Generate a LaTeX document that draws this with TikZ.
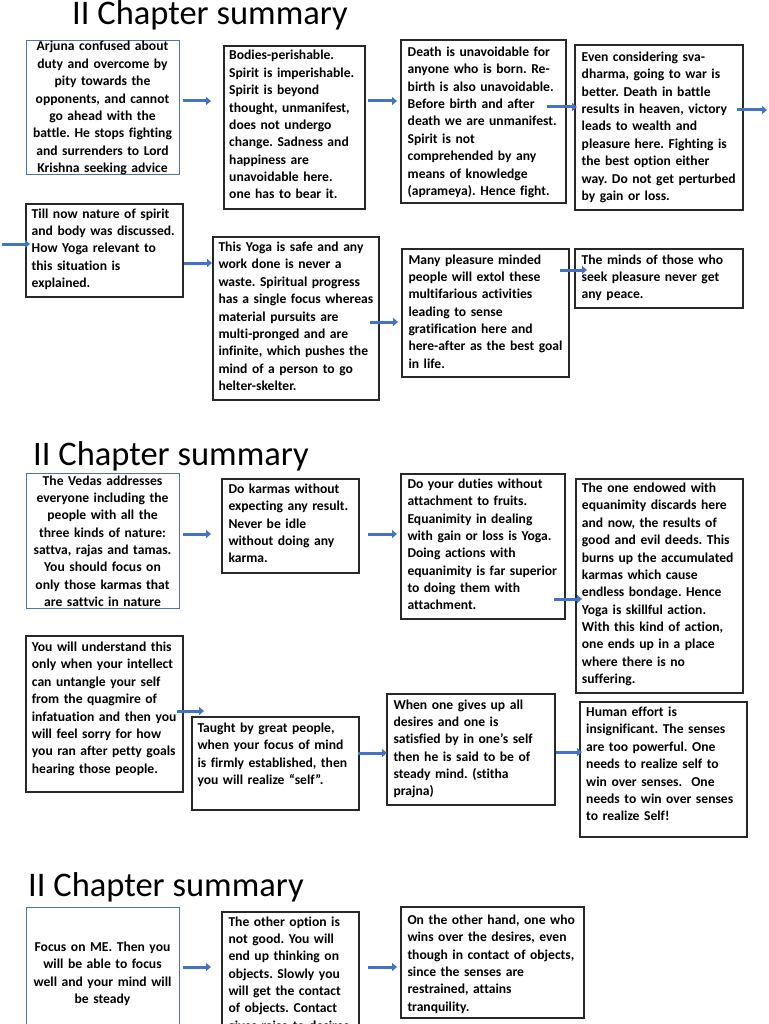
\documentclass[tikz,border=0pt]{standalone}
\usepackage{fontspec}
\setmainfont{Carlito}[Ligatures={NoCommon}]
\usetikzlibrary{arrows.meta,fit}
\definecolor{arrblue}{RGB}{68,114,196}
\definecolor{bordblue}{RGB}{79,114,180}
\definecolor{bordgray}{RGB}{40,40,40}
\tikzset{
  bluebox/.style={draw=bordblue,line width=1pt,inner sep=0pt},
  graybox/.style={draw=bordgray,line width=1.1pt,inner sep=0pt},
  txtl/.style={inner sep=0pt,text width=240pt,align=left,anchor=base west,
    font=\fontsize{13.6}{17.35}\selectfont\bfseries},
  txtc/.style={inner sep=0pt,text width=240pt,align=center,anchor=base,
    font=\fontsize{13.6}{17.35}\selectfont\bfseries},
  ttl/.style={inner sep=0pt,anchor=base west,font=\fontsize{34.5}{40}\selectfont},
  arr/.style={draw=arrblue,line width=3pt,-{Triangle[length=5pt,width=8pt]}}
}
% name, boxstyle, x1, y1, x2, y2, textstyle, tx, ty  -- text given after
\newcommand{\mkbox}[9]{%
  \node[#2,fit={(#3,#4)(#5,#6)}] (#1) {};
  \node[#7] (#1-t) at (#8,#9)}
\begin{document}
\frenchspacing
\begin{tikzpicture}[x=1pt,y=-1pt]
\fill[white] (0,0) rectangle (768,1024);
\clip (0,0) rectangle (768,1024);

% ---------- Section 1 ----------
\node[ttl] (T1) at (72,25) {II Chapter summary};

\mkbox{A1}{bluebox}{26}{41}{179}{175}{txtc}{102.5}{51}{Arjuna confused about\\duty and overcome by\\pity towards the\\opponents, and cannot\\go ahead with the\\battle. He stops fighting\\and surrenders to Lord\\Krishna seeking advice};
\mkbox{A2}{graybox}{224}{46}{365}{209}{txtl}{229}{60}{Bodies-perishable.\\Spirit is imperishable.\\Spirit is beyond\\thought, unmanifest,\\does not undergo\\change. Sadness and\\happiness are\\unavoidable here.\\one has to bear it.};
\mkbox{A3}{graybox}{401}{40}{566}{203}{txtl}{407.5}{56.6}{Death is unavoidable for\\anyone who is born. Re-\\birth is also unavoidable.\\Before birth and after\\death we are unmanifest.\\Spirit is not\\comprehended by any\\means of knowledge\\(aprameya). Hence fight.};
\mkbox{A4}{graybox}{575}{45}{743}{210}{txtl}{581.5}{61.6}{Even considering sva-\\dharma, going to war is\\better. Death in battle\\results in heaven, victory\\leads to wealth and\\pleasure here. Fighting is\\the best option either\\way. Do not get perturbed\\by gain or loss.};

\mkbox{B1}{graybox}{26}{204}{183}{297}{txtl}{31.5}{218.3}{Till now nature of spirit\\and body was discussed.\\How Yoga relevant to\\this situation is\\explained.};
\mkbox{B2}{graybox}{213}{237}{379}{400}{txtl}{218.3}{251.6}{This Yoga is safe and any\\work done is never a\\waste. Spiritual progress\\has a single focus whereas\\material pursuits are\\multi-pronged and are\\infinite, which pushes the\\mind of a person to go\\helter-skelter.};
\mkbox{B3}{graybox}{402}{249}{569}{377}{txtl}{408.3}{264}{Many pleasure minded\\people will extol these\\multifarious activities\\leading to sense\\gratification here and\\here-after as the best goal\\in life.};
\mkbox{B4}{graybox}{575}{249}{743}{308}{txtl}{581.5}{264}{The minds of those who\\seek pleasure never get\\any peace.};

\coordinate (a1s) at (183,101); \coordinate (a1e) at (211,101);
\coordinate (a2s) at (368,101); \coordinate (a2e) at (397,101);
\coordinate (a3s) at (547,107); \coordinate (a3e) at (577,107);
\coordinate (a4s) at (737,110); \coordinate (a4e) at (767,110);
\coordinate (b0s) at (2,244);   \coordinate (b0e) at (30,244);
\coordinate (b1s) at (184,263); \coordinate (b1e) at (212,263);
\coordinate (b2s) at (370,322); \coordinate (b2e) at (398,322);
\coordinate (b3s) at (560,270); \coordinate (b3e) at (587,270);
\foreach \a in {a1,a2,a3,a4,b0,b1,b2,b3} \draw[arr] (\a s) -- (\a e);

% ---------- Section 2 ----------
\node[ttl] (T2) at (33,465) {II Chapter summary};

\mkbox{C1}{bluebox}{26}{473}{179}{608}{txtc}{102.5}{485}{The Vedas addresses\\everyone including the\\people with all the\\three kinds of nature:\\sattva, rajas and tamas.\\You should focus on\\only those karmas that\\are sattvic in nature};
\mkbox{C2}{graybox}{222}{479}{359}{573}{txtl}{228.3}{493.3}{Do karmas without\\expecting any result.\\Never be idle\\without doing any\\karma.};
\mkbox{C3}{graybox}{401}{474}{565}{619}{txtl}{407.3}{488.3}{Do your duties without\\attachment to fruits.\\Equanimity in dealing\\with gain or loss is Yoga.\\Doing actions with\\equanimity is far superior\\to doing them with\\attachment.};
\mkbox{C4}{graybox}{576}{479}{743}{693}{txtl}{581.7}{492.6}{The one endowed with\\equanimity discards here\\and now, the results of\\good and evil deeds. This\\burns up the accumulated\\karmas which cause\\endless bondage. Hence\\Yoga is skillful action.\\With this kind of action,\\one ends up in a place\\where there is no\\suffering.};

\mkbox{D1}{graybox}{26}{636}{183}{792}{txtl}{31.7}{651.6}{You will understand this\\only when your intellect\\can untangle your self\\from the quagmire of\\infatuation and then you\\will feel sorry for how\\you ran after petty goals\\hearing those people.};
\mkbox{D2}{graybox}{192}{717}{359}{810}{txtl}{197.3}{732.6}{Taught by great people,\\when your focus of mind\\is firmly established, then\\you will realize “self”.};
\mkbox{D3}{graybox}{387}{694}{555}{805}{txtl}{393.3}{709}{When one gives up all\\desires and one is\\satisfied by in one’s self\\then he is said to be of\\steady mind. (stitha\\prajna)};
\mkbox{D4}{graybox}{580}{702}{747}{837}{txtl}{586}{716.6}{Human effort is\\insignificant. The senses\\are too powerful. One\\needs to realize self to\\win over senses. \ One\\needs to win over senses\\to realize Self!};

\coordinate (c1s) at (183,534); \coordinate (c1e) at (211,534);
\coordinate (c2s) at (368,534); \coordinate (c2e) at (397,534);
\coordinate (c3s) at (554,599); \coordinate (c3e) at (582,599);
\coordinate (d1s) at (177,711); \coordinate (d1e) at (204,711);
\coordinate (d2s) at (358,753); \coordinate (d2e) at (387,753);
\coordinate (d3s) at (556,752); \coordinate (d3e) at (582,752);
\foreach \a in {c1,c2,c3,d1,d2,d3} \draw[arr] (\a s) -- (\a e);

% ---------- Section 3 ----------
\node[ttl] (T3) at (28,896) {II Chapter summary};

\mkbox{E1}{bluebox}{26}{907}{179}{1035}{txtc}{102.5}{951.6}{Focus on ME. Then you\\will be able to focus\\well and your mind will\\be steady};
\mkbox{E2}{graybox}{222}{912}{359}{1060}{txtl}{228.3}{926}{The other option is\\not good. You will\\end up thinking on\\objects. Slowly you\\will get the contact\\of objects. Contact\\gives raise to desires};
\mkbox{E3}{graybox}{401}{907}{584}{1018}{txtl}{407.3}{924.3}{On the other hand, one who\\wins over the desires, even\\though in contact of objects,\\since the senses are\\restrained, attains\\tranquility.};

\coordinate (e1s) at (183,967); \coordinate (e1e) at (211,967);
\coordinate (e2s) at (368,967); \coordinate (e2e) at (397,967);
\foreach \a in {e1,e2} \draw[arr] (\a s) -- (\a e);
\end{tikzpicture}
\end{document}
